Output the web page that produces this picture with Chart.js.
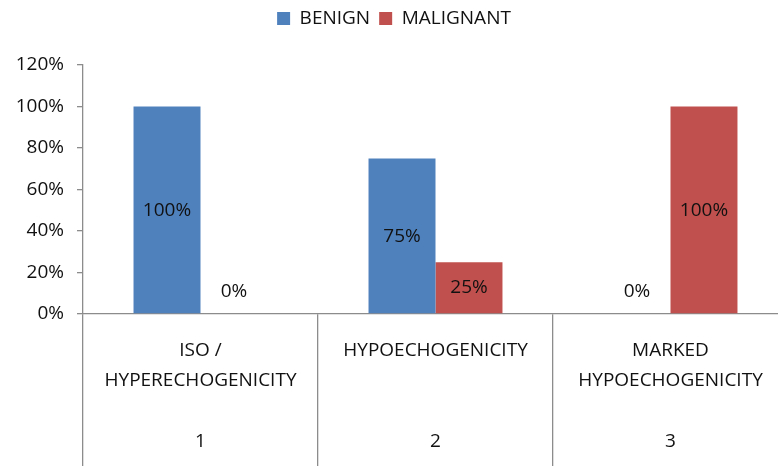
<!DOCTYPE html>
<html>
<head>
<meta charset="utf-8">
<script src="https://cdn.jsdelivr.net/npm/chart.js@4/dist/chart.umd.min.js"></script>
<style>
  html, body { margin: 0; padding: 0; background: #ffffff; overflow: hidden; }
  #wrap { width: 790px; height: 466px; }
</style>
</head>
<body>
<div id="wrap"><canvas id="c" width="790" height="466"></canvas></div>
<script>
// Echogenicity groups (name lines) and their group numbers
const categoryNames = [["ISO /", "HYPERECHOGENICITY"], ["HYPOECHOGENICITY"], ["MARKED", "HYPOECHOGENICITY"]];
const categoryNumbers = ["1", "2", "3"];
// Share of nodules in each group, percent
const benign = [100, 75, 0];
const malignant = [0, 25, 100];
// Percentage axis
const yMin = 0;
const yMax = 120;
const yStep = 20;

const FONT = "'Open Sans', 'Liberation Sans', sans-serif";
const TEXT = '#111111';
const AXIS = '#8c8c8c';

// Each x label: name lines padded to three rows, then the group number
const xLabels = categoryNames.map((lines, i) => {
  const rows = lines.slice();
  while (rows.length < 3) rows.push('');
  rows.push(categoryNumbers[i]);
  return rows;
});

// Value labels in the middle of each bar (zero values sit just above the axis)
const barValueLabels = {
  id: 'barValueLabels',
  afterDatasetsDraw(chart) {
    const ctx = chart.ctx;
    const base = chart.scales.y.getPixelForValue(0);
    ctx.save();
    ctx.font = '19px ' + FONT;
    ctx.fillStyle = TEXT;
    ctx.textAlign = 'center';
    ctx.textBaseline = 'middle';
    chart.data.datasets.forEach((ds, i) => {
      chart.getDatasetMeta(i).data.forEach((bar, j) => {
        const v = ds.data[j];
        const y = v === 0 ? base - 22 : (bar.y + base) / 2;
        ctx.fillText(v + '%', bar.x, y);
      });
    });
    ctx.restore();
  }
};

// Extra room between the legend and the plot
const legendGap = {
  id: 'legendGap',
  beforeInit(chart) {
    const fit = chart.legend.fit;
    chart.legend.fit = function () {
      fit.call(this);
      this.height += 27;
    };
  }
};

new Chart(document.getElementById('c'), {
  type: 'bar',
  data: {
    labels: xLabels,
    datasets: [
      { label: 'BENIGN', data: benign, backgroundColor: '#4f81bd' },
      { label: 'MALIGNANT', data: malignant, backgroundColor: '#c0504d' }
    ]
  },
  options: {
    responsive: false,
    animation: false,
    devicePixelRatio: 1,
    layout: { padding: { top: 0, right: 2, bottom: 0, left: 0 } },
    datasets: { bar: { categoryPercentage: 0.57, barPercentage: 1.0 } },
    plugins: {
      legend: {
        position: 'top',
        labels: {
          boxWidth: 13,
          boxHeight: 13,
          padding: 9,
          color: TEXT,
          font: { family: FONT, size: 19 }
        }
      },
      tooltip: { enabled: false }
    },
    scales: {
      x: {
        offset: true,
        grid: { offset: true, drawOnChartArea: false, drawTicks: true, tickLength: 152, color: AXIS, lineWidth: 1.3 },
        border: { display: true, color: AXIS, width: 1.3 },
        ticks: {
          color: TEXT,
          font: { family: FONT, size: 19, lineHeight: 1.61 },
          padding: -131,
          maxRotation: 0,
          autoSkip: false
        },
        afterFit(scale) { scale.height = 152; }
      },
      y: {
        min: yMin,
        max: yMax,
        grid: { drawOnChartArea: false, drawTicks: true, tickLength: 6, color: AXIS, lineWidth: 1.3 },
        border: { display: true, color: AXIS, width: 1.3 },
        ticks: {
          stepSize: yStep,
          color: TEXT,
          font: { family: FONT, size: 19 },
          padding: 13,
          callback: v => v + '%'
        },
        afterFit(scale) { scale.width = 83; }
      }
    }
  },
  plugins: [barValueLabels, legendGap]
});
</script>
</body>
</html>
